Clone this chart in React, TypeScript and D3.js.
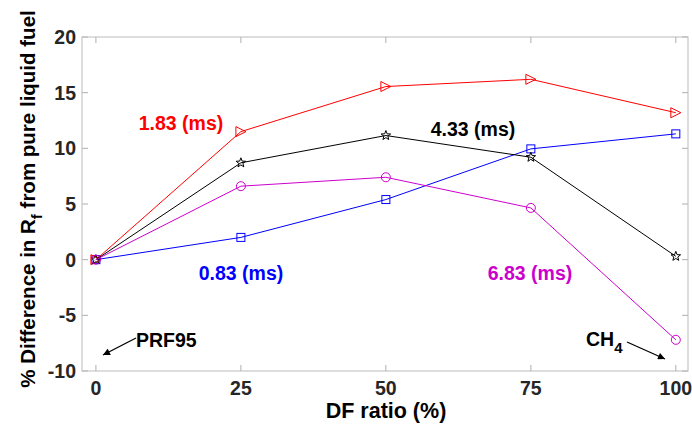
import React from "react";
import * as d3 from "d3";

const dfRatio = [0, 25, 50, 75, 100];
const series183 = [0, 11.5, 15.55, 16.2, 13.2];
const series433 = [0, 8.7, 11.15, 9.2, 0.3];
const series683 = [0, 6.6, 7.4, 4.65, -7.2];
const series083 = [0, 2.0, 5.4, 9.95, 11.3];
const xTicks = [0, 25, 50, 75, 100];
const yTicks = [-10, -5, 0, 5, 10, 15, 20];

const W = 692, H = 430;
const L = 82, R = 688, T = 37, B = 371;
const FONT = "'Liberation Sans', Arial, sans-serif";

function triangle(x: number, y: number, s: number) {
  return `M${x + s},${y} L${x - s},${y - s} L${x - s},${y + s} Z`;
}
function star(x: number, y: number, r: number) {
  const pts: string[] = [];
  for (let i = 0; i < 10; i++) {
    const rad = i % 2 === 0 ? r : r * 0.42;
    const a = -Math.PI / 2 + (i * Math.PI) / 5;
    pts.push(`${x + rad * Math.cos(a)},${y + rad * Math.sin(a)}`);
  }
  return "M" + pts.join("L") + "Z";
}

export default function App() {
  const x = d3.scaleLinear().domain([-2.4, 102.1]).range([L, R]);
  const y = d3.scaleLinear().domain([-10, 20]).range([B, T]);
  const line = d3.line<number>().x((_, i) => x(dfRatio[i])).y((d) => y(d));

  const series = [
    { data: series083, color: "#0000ff", marker: "square" },
    { data: series183, color: "#ff0000", marker: "tri" },
    { data: series433, color: "#000000", marker: "star" },
    { data: series683, color: "#cc00cc", marker: "circle" },
  ];

  return (
    <svg width={W} height={H} style={{ position: "absolute", left: 0, top: 0 }}>
      <rect x={0} y={0} width={W} height={H} fill="#fff" />
      {xTicks.map((t) => (
        <g key={"xt" + t}>
          <line x1={x(t)} x2={x(t)} y1={B} y2={B - 6} stroke="#999" strokeWidth={0.8} />
          <line x1={x(t)} x2={x(t)} y1={T} y2={T + 6} stroke="#999" strokeWidth={0.8} />
          <text x={x(t)} y={B + 24} textAnchor="middle" fontFamily={FONT} fontWeight="bold" fontSize={19.5} fill="#262626">{t}</text>
        </g>
      ))}
      {yTicks.map((t) => (
        <g key={"yt" + t}>
          <line x1={L} x2={L + 6} y1={y(t)} y2={y(t)} stroke="#999" strokeWidth={0.8} />
          <line x1={R} x2={R - 6} y1={y(t)} y2={y(t)} stroke="#999" strokeWidth={0.8} />
          <text x={L - 6} y={y(t) + 7} textAnchor="end" fontFamily={FONT} fontWeight="bold" fontSize={19.5} fill="#262626">{t}</text>
        </g>
      ))}
      <rect x={L} y={T} width={R - L} height={B - T} fill="none" stroke="#bbb" strokeWidth={1} />
      {series.map((s, si) => (
        <g key={"s" + si}>
          <path d={line(s.data) || ""} fill="none" stroke={s.color} strokeWidth={1} />
          {s.data.map((v, i) => {
            const cx = x(dfRatio[i]), cy = y(v);
            if (s.marker === "square")
              return <rect key={i} x={cx - 4} y={cy - 4} width={8} height={8} fill="none" stroke={s.color} strokeWidth={1} />;
            if (s.marker === "tri")
              return <path key={i} d={triangle(cx, cy, 5)} fill="none" stroke={s.color} strokeWidth={1} />;
            if (s.marker === "star")
              return <path key={i} d={star(cx, cy, 5)} fill="none" stroke={s.color} strokeWidth={1} />;
            return <circle key={i} cx={cx} cy={cy} r={4.5} fill="none" stroke={s.color} strokeWidth={1} />;
          })}
        </g>
      ))}
      <g fontFamily={FONT} fontWeight="bold" fontSize={19.5}>
        <text x={181} y={130} textAnchor="middle" fill="#ff0000">1.83 (ms)</text>
        <text x={473} y={136} textAnchor="middle" fill="#000">4.33 (ms)</text>
        <text x={241} y={280} textAnchor="middle" fill="#0000ff">0.83 (ms)</text>
        <text x={530} y={280} textAnchor="middle" fill="#cc00cc">6.83 (ms)</text>
        <text x={136} y={347} fill="#000">PRF95</text>
        <text x={586} y={346} fill="#000">CH<tspan fontSize={15} dy={7}>4</tspan></text>
      </g>
      <defs>
        <marker id="ah" viewBox="0 0 10 10" refX={10} refY={5} markerWidth={8} markerHeight={7} orient="auto" markerUnits="userSpaceOnUse">
          <path d="M0,0 L10,5 L0,10 Z" fill="#000" />
        </marker>
      </defs>
      <line x1={136} y1={338} x2={103} y2={355} stroke="#000" strokeWidth={1.3} markerEnd="url(#ah)" />
      <line x1={627} y1={342} x2={665} y2={359} stroke="#000" strokeWidth={1.3} markerEnd="url(#ah)" />
      <text x={386} y={418} textAnchor="middle" fontFamily={FONT} fontWeight="bold" fontSize={21.5} fill="#000">DF ratio (%)</text>
      <text transform={`translate(35,199) rotate(-90)`} textAnchor="middle" fontFamily={FONT} fontWeight="bold" fontSize={20.5} fill="#000">
        % Difference in R<tspan fontSize={15} dy={7}>f</tspan><tspan dy={-7}> from pure liquid fuel</tspan>
      </text>
    </svg>
  );
}
